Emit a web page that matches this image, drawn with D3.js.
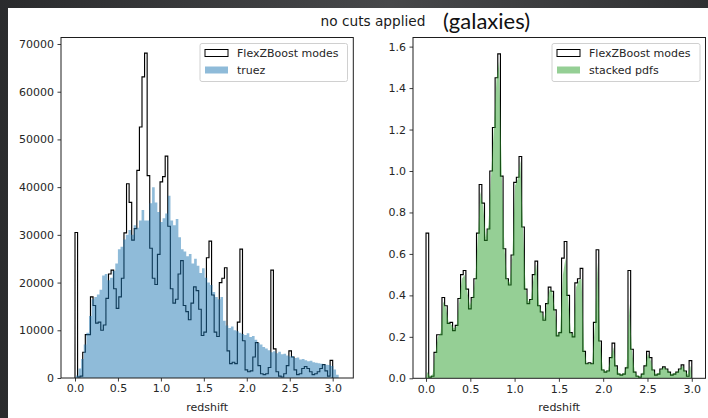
<!DOCTYPE html>
<html>
<head>
<meta charset="utf-8">
<script src="https://cdn.jsdelivr.net/npm/d3@7"></script>
<style>
  html, body { margin: 0; padding: 0; background: #2c2d2f; }
  svg { display: block; }
  text { font-family: "DejaVu Sans", sans-serif; fill: #262626; }
</style>
</head>
<body>
<svg id="chart" width="708" height="418"></svg>
<script>
// ---- data ---------------------------------------------------------------
// FlexZBoost mode histogram: 100 bins of width 0.03 on [0, 3]
const modeBinStart = 0.0;
const modeBinWidth = 0.03;
const modeCounts = [
  30500, 200, 400, 5400, 9100, 9100, 17000, 15200, 11500, 11700,
  10000, 11100, 16700, 21800, 22600, 18700, 14600, 17000, 20900, 30400,
  40700, 36800, 28900, 31300, 43500, 52600, 63100, 68100, 42400, 27200,
  20900, 19600, 25900, 41100, 42200, 46500, 31800, 18700, 15700, 16500,
  21800, 24600, 15200, 13900, 12200, 15700, 19100, 18300, 14400, 8900,
  9600, 25200, 28700, 17400, 9600, 8700, 20000, 20900, 23100, 5700,
  3000, 3300, 3000, 11700, 27000, 7800, 1700, 1300, 1500, 4400,
  7400, 2600, 900, 700, 900, 2200, 22600, 6100, 1300, 400,
  200, 900, 2600, 5700, 4400, 1700, 700, 900, 2000, 2400,
  2000, 1300, 700, 900, 1300, 2000, 2800, 1500, 400, 3700
];
// Same modes as a normalised density (right panel)
const modeDensity = [
  0.70, 0.005, 0.01, 0.125, 0.21, 0.21, 0.39, 0.35, 0.265, 0.27,
  0.23, 0.255, 0.385, 0.50, 0.52, 0.43, 0.335, 0.39, 0.48, 0.70,
  0.935, 0.845, 0.665, 0.72, 1.0, 1.21, 1.45, 1.565, 0.975, 0.625,
  0.48, 0.45, 0.595, 0.945, 0.97, 1.07, 0.73, 0.43, 0.36, 0.38,
  0.50, 0.565, 0.35, 0.32, 0.28, 0.36, 0.44, 0.42, 0.33, 0.205,
  0.22, 0.58, 0.66, 0.40, 0.22, 0.20, 0.46, 0.48, 0.53, 0.13,
  0.07, 0.075, 0.07, 0.27, 0.62, 0.18, 0.04, 0.03, 0.035, 0.10,
  0.17, 0.06, 0.02, 0.015, 0.02, 0.05, 0.52, 0.14, 0.03, 0.01,
  0.005, 0.02, 0.06, 0.13, 0.10, 0.04, 0.015, 0.02, 0.045, 0.055,
  0.045, 0.03, 0.015, 0.02, 0.03, 0.045, 0.065, 0.035, 0.01, 0.085
];
// True redshift histogram: 100 bins on [0.01, 3.07]
const trueBinStart = 0.01;
const trueBinWidth = 0.0306;
const trueCounts = [
  500, 2000, 4000, 7000, 9500, 13000, 16500, 17000, 17500, 18500,
  21500, 21800, 20500, 21000, 22500, 24000, 27000, 27500, 29000, 30000,
  31000, 30000, 32000, 31500, 33000, 35200, 33000, 33000, 36600, 40000,
  36800, 34800, 32700, 33500, 34500, 38200, 33000, 32000, 33300, 29500,
  27000, 26500, 25500, 26000, 24000, 25000, 23500, 22000, 23000, 21000,
  20000, 19500, 18000, 17000, 16500, 17000, 12000, 11000, 10500, 10800,
  10000, 9800, 9500, 9200, 9000, 9400, 8600, 8800, 8000, 7400,
  7000, 6500, 6200, 5800, 5400, 5600, 5200, 5500, 5000, 5100,
  4700, 4500, 4600, 4200, 4300, 3900, 4000, 3700, 3500, 3600,
  3300, 3200, 3100, 3000, 2900, 2800, 2700, 2500, 1800, 700
];
// Stacked p(z), sampled at the mode-bin centres
const stackedPdf = [
  0.03, 0.01, 0.02, 0.12, 0.20, 0.22, 0.37, 0.34, 0.27, 0.26,
  0.24, 0.25, 0.37, 0.48, 0.50, 0.42, 0.35, 0.39, 0.47, 0.68,
  0.90, 0.83, 0.68, 0.74, 0.98, 1.20, 1.44, 1.53, 0.98, 0.63,
  0.48, 0.46, 0.59, 0.93, 0.96, 1.05, 0.72, 0.43, 0.37, 0.38,
  0.49, 0.55, 0.36, 0.32, 0.29, 0.36, 0.43, 0.42, 0.33, 0.21,
  0.23, 0.50, 0.58, 0.38, 0.22, 0.21, 0.44, 0.47, 0.48, 0.14,
  0.07, 0.075, 0.07, 0.25, 0.56, 0.18, 0.045, 0.035, 0.04, 0.10,
  0.15, 0.06, 0.025, 0.02, 0.025, 0.06, 0.36, 0.13, 0.035, 0.015,
  0.01, 0.025, 0.06, 0.12, 0.09, 0.04, 0.02, 0.025, 0.045, 0.055,
  0.045, 0.03, 0.02, 0.025, 0.03, 0.045, 0.06, 0.035, 0.02, 0.06
];
const xTicks = [0.0, 0.5, 1.0, 1.5, 2.0, 2.5, 3.0];
const leftYTicks = [0, 10000, 20000, 30000, 40000, 50000, 60000, 70000];
const rightYTicks = [0.0, 0.2, 0.4, 0.6, 0.8, 1.0, 1.2, 1.4, 1.6];
const titleText = "no cuts applied";
const subtitleText = "(galaxies)";
const xLabel = "redshift";
const modeLabel = "FlexZBoost modes";
const leftLabel = "truez";
const rightLabel = "stacked pdfs";

// ---- drawing --------------------------------------------------------------
const svg = d3.select("#chart");

// slide background + white page
const defs = svg.append("defs");
const grad = defs.append("linearGradient").attr("id", "slideBg")
  .attr("x1", "0%").attr("x2", "100%").attr("y1", "0%").attr("y2", "0%");
grad.append("stop").attr("offset", "0%").attr("stop-color", "#2a2b2d");
grad.append("stop").attr("offset", "55%").attr("stop-color", "#47484a");
grad.append("stop").attr("offset", "100%").attr("stop-color", "#303133");
svg.append("rect").attr("width", 708).attr("height", 418).attr("fill", "url(#slideBg)");
svg.append("rect").attr("x", 8).attr("y", 8).attr("width", 700).attr("height", 410).attr("fill", "#ffffff");

svg.append("text").attr("x", 373).attr("y", 25.5).attr("text-anchor", "middle")
  .style("font-size", "13.7px").style("fill", "#1a1a1a").text(titleText);
svg.append("text").attr("x", 443).attr("y", 29)
  .style("font-family", "Lato, 'Open Sans', sans-serif").style("font-size", "22px")
  .style("fill", "#111").text(subtitleText);

function edges(start, width, n) {
  return d3.range(n + 1).map(i => start + i * width);
}

function stepPoints(start, width, vals) {
  const e = edges(start, width, vals.length);
  const pts = [[e[0], 0]];
  vals.forEach((v, i) => pts.push([e[i], v]));
  pts.push([e[vals.length], vals[vals.length - 1]]);
  pts.push([e[vals.length], 0]);
  return pts;
}

function panel(cfg) {
  const g = svg.append("g");
  const x = d3.scaleLinear().domain(cfg.xDomain).range([cfg.left, cfg.right]);
  const y = d3.scaleLinear().domain(cfg.yDomain).range([cfg.bottom, cfg.top]);

  g.append("defs").append("clipPath").attr("id", cfg.id + "clip")
    .append("rect").attr("x", cfg.left).attr("y", cfg.top)
    .attr("width", cfg.right - cfg.left).attr("height", cfg.bottom - cfg.top);
  const plot = g.append("g").attr("clip-path", `url(#${cfg.id}clip)`);

  // modes as a step outline
  const modeLine = d3.line().x(d => x(d[0])).y(d => y(d[1])).curve(d3.curveStepAfter);
  plot.append("path").attr("d", modeLine(stepPoints(modeBinStart, modeBinWidth, cfg.modes)))
    .attr("fill", "none").attr("stroke", "#000").attr("stroke-width", 1.15)
    .attr("stroke-linejoin", "miter");

  cfg.drawFill(plot, x, y);

  // axes
  const xAxis = d3.axisBottom(x).tickValues(xTicks).tickFormat(d3.format(".1f"))
    .tickSizeOuter(0).tickSize(3.5).tickPadding(3);
  const yAxis = d3.axisLeft(y).tickValues(cfg.yTicks).tickFormat(cfg.yFormat)
    .tickSizeOuter(0).tickSize(3.5).tickPadding(3.5);
  const gx = g.append("g").attr("transform", `translate(0,${cfg.bottom})`).call(xAxis);
  const gy = g.append("g").attr("transform", `translate(${cfg.left},0)`).call(yAxis);
  [gx, gy].forEach(a => {
    a.select(".domain").remove();
    a.selectAll(".tick line").attr("stroke", "#262626").attr("stroke-width", 0.9);
    a.selectAll(".tick text").style("font-size", "11px").style("fill", "#262626")
      .style("font-family", "'DejaVu Sans', sans-serif");
  });

  // frame
  g.append("rect").attr("x", cfg.left).attr("y", cfg.top)
    .attr("width", cfg.right - cfg.left).attr("height", cfg.bottom - cfg.top)
    .attr("fill", "none").attr("stroke", "#1e1e1e").attr("stroke-width", 1);

  g.append("text").attr("x", (cfg.left + cfg.right) / 2).attr("y", 411)
    .attr("text-anchor", "middle").style("font-size", "11px").text(xLabel);

  // legend
  const lg = g.append("g");
  lg.append("rect").attr("x", cfg.legX).attr("y", 43.5).attr("width", cfg.legW).attr("height", 38)
    .attr("rx", 2).attr("fill", "#fff").attr("fill-opacity", 0.8)
    .attr("stroke", "#d0d0d0").attr("stroke-width", 1);
  lg.append("rect").attr("x", cfg.legX + 5).attr("y", 49.5).attr("width", 23).attr("height", 7)
    .attr("fill", "none").attr("stroke", "#000").attr("stroke-width", 1);
  lg.append("rect").attr("x", cfg.legX + 5).attr("y", 66.5).attr("width", 23).attr("height", 7)
    .attr("fill", cfg.color).attr("fill-opacity", 0.5);
  lg.append("text").attr("x", cfg.legX + 37).attr("y", 57).style("font-size", "11px").text(modeLabel);
  lg.append("text").attr("x", cfg.legX + 37).attr("y", 74).style("font-size", "11px").text(cfg.label);
}

// left: counts
panel({
  id: "L", left: 61, right: 353.3, top: 37.5, bottom: 378,
  xDomain: [-0.163, 3.24], yDomain: [0, 71360],
  yTicks: leftYTicks, yFormat: d3.format("d"),
  modes: modeCounts, color: "#1f77b4", label: leftLabel,
  legX: 200, legW: 147.5,
  drawFill: (plot, x, y) => {
    const area = d3.area().x(d => x(d[0])).y0(y(0)).y1(d => y(d[1])).curve(d3.curveStepAfter);
    const e = edges(trueBinStart, trueBinWidth, trueCounts.length);
    const pts = trueCounts.map((v, i) => [e[i], v]);
    pts.push([e[trueCounts.length], trueCounts[trueCounts.length - 1]]);
    plot.append("path").attr("d", area(pts)).attr("fill", "#1f77b4").attr("fill-opacity", 0.5);
  }
});

// right: densities
panel({
  id: "R", left: 413, right: 705.5, top: 37.5, bottom: 378.3,
  xDomain: [-0.147, 3.155], yDomain: [0, 1.644],
  yTicks: rightYTicks, yFormat: d3.format(".1f"),
  modes: modeDensity, color: "#2ca02c", label: rightLabel,
  legX: 552, legW: 148,
  drawFill: (plot, x, y) => {
    const area = d3.area().x(d => x(d[0])).y0(y(0)).y1(d => y(d[1]));
    const pts = [[0, 0]].concat(
      stackedPdf.map((v, i) => [modeBinStart + (i + 0.5) * modeBinWidth, v]),
      [[3.0, 0]]);
    plot.append("path").attr("d", area(pts)).attr("fill", "#2ca02c").attr("fill-opacity", 0.5);
  }
});
</script>
</body>
</html>
